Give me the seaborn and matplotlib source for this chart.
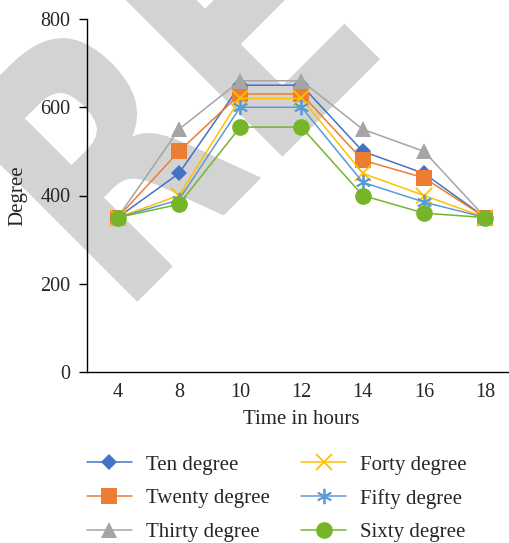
import numpy as np
import matplotlib
matplotlib.use("Agg")
import matplotlib.pyplot as plt
from matplotlib import patheffects
from matplotlib.transforms import Affine2D
import seaborn as sns

# hours on the x axis (drawn as equally spaced categories)
hours = ["4", "8", "10", "12", "14", "16", "18"]

ten_degree = [350, 450, 650, 650, 500, 450, 350]
twenty_degree = [350, 500, 630, 630, 480, 440, 350]
thirty_degree = [350, 550, 660, 660, 550, 500, 350]
forty_degree = [350, 400, 620, 620, 450, 400, 350]
fifty_degree = [350, 390, 600, 600, 430, 385, 350]
sixty_degree = [350, 380, 555, 555, 400, 360, 350]

series_names = ["Ten degree", "Twenty degree", "Thirty degree",
                "Forty degree", "Fifty degree", "Sixty degree"]
series_values = [ten_degree, twenty_degree, thirty_degree,
                 forty_degree, fifty_degree, sixty_degree]

colors = ["#4472C4", "#ED7D31", "#A5A5A5", "#FFC000", "#5B9BD5", "#76B52A"]
markers = ["D", "s", "^", "x", (6, 2, 0), "o"]
msizes = [8, 12, 12, 11, 11, 12]


class Squeeze(patheffects.AbstractPathEffect):
    # narrows the glyphs along the text direction (condensed look)
    def __init__(self, sx):
        super().__init__()
        self.sx = sx

    def draw_path(self, renderer, gc, tpath, affine, rgbFace=None):
        renderer.draw_path(gc, tpath, Affine2D().scale(self.sx, 1) + affine, rgbFace)


sns.set_style("white")
plt.rcParams["font.family"] = ["Liberation Serif", "DejaVu Serif"]

fig = plt.figure(figsize=(5.1, 5.43), dpi=100)
ax = fig.add_axes([87 / 510, 1 - 372 / 543, 429 / 510, 353 / 543])
ax.patch.set_alpha(0)

# grey watermark behind the plot
fig.text(120 / 510, 1 - 319 / 543, "RETRACTED", rotation=45,
         rotation_mode="anchor", ha="left", va="baseline", fontsize=254,
         fontweight="bold", color="#d3d3d3", family="DejaVu Sans", zorder=-5,
         path_effects=[Squeeze(0.755)])

xpos = np.arange(len(hours))
for name, vals, c, m, ms in zip(series_names, series_values, colors, markers, msizes):
    sns.lineplot(x=xpos, y=vals, ax=ax, color=c, marker=m, markersize=ms,
                 markeredgecolor=c, markeredgewidth=1.3 if m in ("x", (6, 2, 0)) else 0,
                 linewidth=1.1, label=name, legend=False)

ax.set_xlim(-0.5, 6.5)
ax.set_ylim(0, 800)
ax.set_yticks([0, 200, 400, 600, 800])
ax.set_xticks(xpos)
ax.set_xticklabels(hours)
ax.tick_params(axis="y", length=6, width=1, pad=6, labelsize=14.5, left=True, color="black")
ax.tick_params(axis="x", length=0, pad=8, labelsize=14.5)
for s in ["top", "right"]:
    ax.spines[s].set_visible(False)
for s in ["left", "bottom"]:
    ax.spines[s].set_color("black")
    ax.spines[s].set_linewidth(1)
ax.set_xlabel("Time in hours", fontsize=15, labelpad=6)
ax.set_ylabel("Degree", fontsize=15, labelpad=9)

handles, labels = ax.get_legend_handles_labels()
fig.legend(handles, labels, ncol=2, loc="upper left",
           bbox_to_anchor=(87 / 510, 1 - 455 / 543), frameon=False,
           fontsize=15, handlelength=2.16, handletextpad=0.67,
           columnspacing=1.5, labelspacing=0.68, borderpad=0, borderaxespad=0)

fig.savefig("out.png", dpi=100)
